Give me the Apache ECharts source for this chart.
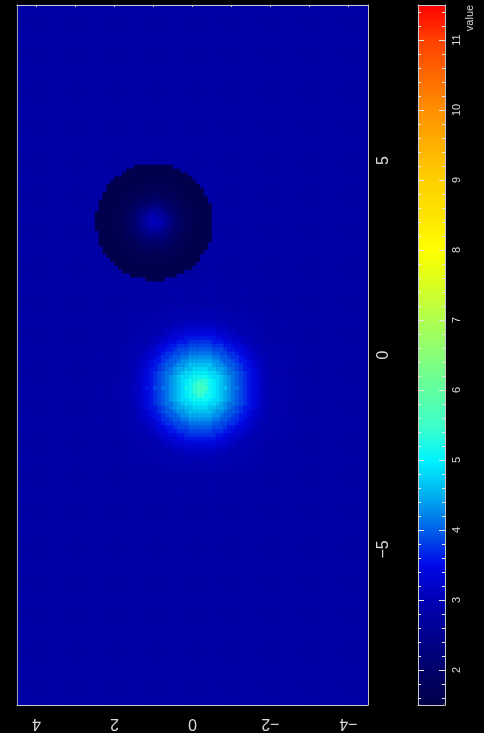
<!DOCTYPE html>
<html><head><meta charset="utf-8">
<script src="https://cdn.jsdelivr.net/npm/echarts@6/dist/echarts.min.js"></script>
<style>html,body{margin:0;padding:0;background:#000;}#c{width:484px;height:733px;}</style>
</head><body><div id="c"></div>
<script>
// ---- axis ranges and ticks ----
const xRange = [-9, 9];          // runs bottom -> top in the picture
const yRange = [-4.5, 4.5];      // runs right -> left in the picture
const cellSize = 0.1;
const xTickLabels = [-5, 0, 5];
const yTickLabels = [-4, -2, 0, 2, 4];
const yTopTicks = [-4, -3, -2, -1, 0, 1, 2, 3, 4];
const colorRange = [1.5, 11.5];
const colorMajorTicks = [2, 3, 4, 5, 6, 7, 8, 9, 10, 11];
const colorMinorTicks = [1.6, 1.8, 2.2, 2.4, 2.6, 2.8, 3.2, 3.4, 3.6, 3.8, 4.2, 4.4, 4.6, 4.8,
  5.2, 5.4, 5.6, 5.8, 6.2, 6.4, 6.6, 6.8, 7.2, 7.4, 7.6, 7.8, 8.2, 8.4, 8.6, 8.8,
  9.2, 9.4, 9.6, 9.8, 10.2, 10.4, 10.6, 10.8, 11.2, 11.4];
const colorStops = ['#000048', '#00006a', '#000090', '#0000b4', '#0008e8', '#0060e8', '#00b0f0',
  '#00f4ff', '#40ffc8', '#60ffa0', '#88ff78', '#b0ff50', '#d8ff20', '#ffff00', '#ffe400',
  '#ffd000', '#ffb000', '#ff9000', '#ff6800', '#ff4000', '#ff0000'];

// ---- field values ----
const backgroundValue = 2.8;
const bumpCenter = [-0.85, -0.2];
// value at radius 0, 0.1, 0.2, ... from the bright spot centre
const bumpProfile = [5.55, 5.48, 5.32, 5.12, 4.95, 4.8, 4.62, 4.45, 4.3, 4.12, 3.98, 3.85, 3.73,
  3.58, 3.42, 3.3, 3.18, 3.08, 3.0, 2.95, 2.92, 2.9, 2.88, 2.87, 2.86, 2.85, 2.84, 2.83, 2.83];
const diskCenter = [3.43, 0.97];
const diskRadius = 1.5;
// value at radius 0, 0.1, ... inside the dark disk
const diskProfile = [3.1, 3.0, 2.8, 2.55, 2.3, 2.1, 1.95, 1.83, 1.74, 1.68, 1.64, 1.62,
  1.6, 1.59, 1.59, 1.59];

// ---- build the cell table ----
const nX = Math.round((xRange[1] - xRange[0]) / cellSize);
const nY = Math.round((yRange[1] - yRange[0]) / cellSize);
const xCats = [], yCats = [];
for (let i = 0; i < nX; i++) xCats.push((xRange[0] + (i + 0.5) * cellSize).toFixed(2));
for (let j = 0; j < nY; j++) yCats.push((yRange[1] - (j + 0.5) * cellSize).toFixed(2));
const cells = [];
for (let i = 0; i < nX; i++) {
  const x = +xCats[i];
  for (let j = 0; j < nY; j++) {
    const y = +yCats[j];
    const dd = Math.hypot(x - diskCenter[0], y - diskCenter[1]);
    let v;
    if (dd <= diskRadius) {
      v = diskProfile[Math.min(diskProfile.length - 1, Math.round(dd / cellSize))];
    } else {
      const db = Math.hypot(x - bumpCenter[0], y - bumpCenter[1]);
      const k = Math.round(db / cellSize);
      v = k < bumpProfile.length ? bumpProfile[k] : backgroundValue;
    }
    cells.push([j, i, v]);
  }
}

const FONT = 'Liberation Sans';
const LINE = '#c8c8c8';
const TXT = '#d8d8d8';
const fmt = v => (v < 0 ? '\u2212' + Math.abs(v) : String(v));
const plotRect = {left: 17, top: 5, width: 351, height: 700};
const barRect = {left: 418, top: 5, width: 27, height: 700};
const edge = (color) => ({show: true, onZero: false, lineStyle: {color: color || LINE, width: 1}});

const chart = echarts.init(document.getElementById('c'), null, {renderer: 'canvas'});
chart.setOption({
  backgroundColor: '#000',
  animation: false,
  grid: [
    Object.assign({}, plotRect),
    Object.assign({}, plotRect),
    Object.assign({}, barRect)
  ],
  xAxis: [
    {gridIndex: 0, type: 'category', data: yCats, show: false},
    {gridIndex: 1, type: 'value', min: yRange[0], max: yRange[1], inverse: true, position: 'bottom', z: 10,
      axisLine: edge(), axisTick: {show: false}, splitLine: {show: false},
      axisLabel: {customValues: yTickLabels, rotate: 180, margin: 10, fontSize: 16, fontFamily: FONT, color: TXT, formatter: fmt}},
    {gridIndex: 1, type: 'value', min: yRange[0], max: yRange[1], inverse: true, position: 'top', z: 10,
      axisLine: edge(),
      axisTick: {show: true, inside: true, length: 2, customValues: yTopTicks, lineStyle: {color: LINE}},
      axisLabel: {show: false}, splitLine: {show: false}},
    {gridIndex: 2, type: 'value', min: 0, max: 1, position: 'bottom', z: 10,
      axisLine: edge(), axisTick: {show: false}, axisLabel: {show: false}, splitLine: {show: false}},
    {gridIndex: 2, type: 'value', min: 0, max: 1, position: 'top', z: 10,
      axisLine: edge(), axisTick: {show: false}, axisLabel: {show: false}, splitLine: {show: false}}
  ],
  yAxis: [
    {gridIndex: 0, type: 'category', data: xCats, show: false},
    {gridIndex: 1, type: 'value', min: xRange[0], max: xRange[1], position: 'right', z: 10,
      axisLine: edge(), axisTick: {show: false}, splitLine: {show: false},
      axisLabel: {customValues: xTickLabels, rotate: 90, margin: 8, fontSize: 16, fontFamily: FONT, color: TXT, formatter: fmt}},
    {gridIndex: 1, type: 'value', min: xRange[0], max: xRange[1], position: 'left', z: 10,
      axisLine: edge('#a0a0a0'), axisTick: {show: false}, axisLabel: {show: false}, splitLine: {show: false}},
    // colour bar axes
    {gridIndex: 2, type: 'value', min: colorRange[0], max: colorRange[1], position: 'left', z: 10,
      axisLine: edge(),
      axisTick: {show: true, inside: true, length: 6, customValues: colorMajorTicks, lineStyle: {color: '#e8e8e8'}},
      axisLabel: {show: false}, splitLine: {show: false}},
    {gridIndex: 2, type: 'value', min: colorRange[0], max: colorRange[1], position: 'left', z: 10,
      axisLine: {show: false, onZero: false},
      axisTick: {show: true, inside: true, length: 3, customValues: colorMinorTicks, lineStyle: {color: '#e8e8e8'}},
      axisLabel: {show: false}, splitLine: {show: false}},
    {gridIndex: 2, type: 'value', min: colorRange[0], max: colorRange[1], position: 'right', z: 10,
      axisLine: edge(),
      axisTick: {show: true, inside: true, length: 6, customValues: colorMajorTicks, lineStyle: {color: '#e8e8e8'}},
      axisLabel: {customValues: colorMajorTicks, rotate: 90, margin: 6, fontSize: 11, fontFamily: FONT, color: TXT},
      splitLine: {show: false}},
    {gridIndex: 2, type: 'value', min: colorRange[0], max: colorRange[1], position: 'right', z: 10,
      axisLine: {show: false, onZero: false},
      axisTick: {show: true, inside: true, length: 3, customValues: colorMinorTicks, lineStyle: {color: '#e8e8e8'}},
      axisLabel: {show: false}, splitLine: {show: false}}
  ],
  visualMap: {
    type: 'continuous', seriesIndex: 0, min: colorRange[0], max: colorRange[1],
    orient: 'vertical', left: barRect.left, top: barRect.top, padding: 0,
    itemWidth: barRect.width, itemHeight: barRect.height,
    calculable: false, hoverLink: false,
    inRange: {color: colorStops}
  },
  graphic: [{
    type: 'text', x: 470, y: 18, rotation: Math.PI / 2, z: 20,
    style: {text: 'value', fill: TXT, font: '11px "Liberation Sans"', align: 'center', verticalAlign: 'middle',
      textAlign: 'center', textVerticalAlign: 'middle'}
  }],
  series: [{
    type: 'heatmap', xAxisIndex: 0, yAxisIndex: 0, data: cells,
    progressive: 0, emphasis: {disabled: true}, itemStyle: {borderWidth: 0}
  }]
});
</script>
</body></html>
